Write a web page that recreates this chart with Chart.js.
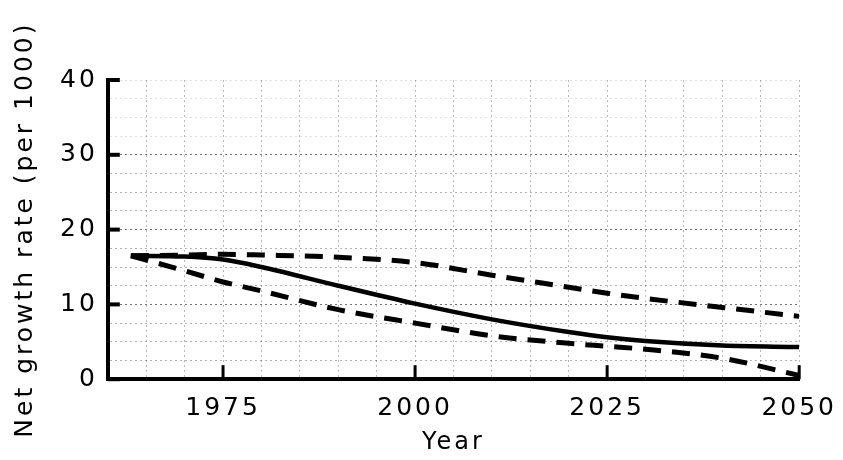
<!DOCTYPE html>
<html>
<head>
<meta charset="utf-8">
<script src="https://cdn.jsdelivr.net/npm/chart.js@4.4.1/dist/chart.umd.min.js"></script>
<style>
  html, body { margin: 0; padding: 0; background: #fff; }
  #wrap { width: 843px; height: 460px; }
</style>
</head>
<body>
<div id="wrap"><canvas id="c"></canvas></div>
<script>
// net growth rate projections
const YEARS      = [1963, 1970, 1975, 1980, 1990, 2000, 2010, 2020, 2025, 2030, 2040, 2050];
const MEDIUM     = [16.5, 16.4, 16.0, 15.0, 12.5, 10.1, 8.0, 6.3, 5.6, 5.1, 4.5, 4.3];
const HIGH       = [16.5, 16.6, 16.7, 16.6, 16.3, 15.6, 13.9, 12.3, 11.5, 10.8, 9.6, 8.4];
const LOW        = [16.5, 14.5, 13.0, 11.8, 9.3, 7.5, 5.8, 4.8, 4.4, 4.0, 2.8, 0.5];
const X_LABELS   = [1975, 2000, 2025, 2050];
const Y_LABELS   = [0, 10, 20, 30, 40];

const INK = '#000';
const FONT = 'DejaVu Sans';

const pts = vals => YEARS.map((y, i) => ({ x: y, y: vals[i] }));

// canvas letter spacing for the wide stencil-ish lettering
const spacing = {
  id: 'spacing',
  beforeUpdate(c) { c.ctx.letterSpacing = '3px'; },
  beforeDraw(c) { c.ctx.letterSpacing = '3px'; },
};

// inward tick marks, like the original drafting
const inTicks = {
  id: 'inTicks',
  afterDatasetsDraw(c) {
    const { ctx, chartArea: a, scales: { x, y } } = c;
    ctx.save();
    ctx.strokeStyle = INK;
    ctx.lineCap = 'butt';
    ctx.lineWidth = 4;
    Y_LABELS.forEach(v => {
      const py = y.getPixelForValue(v);
      ctx.beginPath(); ctx.moveTo(a.left, py); ctx.lineTo(a.left + 12, py); ctx.stroke();
    });
    ctx.lineWidth = 3;
    X_LABELS.forEach(v => {
      const px = x.getPixelForValue(v);
      ctx.beginPath(); ctx.moveTo(px, a.bottom); ctx.lineTo(px, a.bottom - 14); ctx.stroke();
    });
    ctx.restore();
  }
};

new Chart(document.getElementById('c'), {
  type: 'line',
  data: {
    datasets: [
      { label: 'medium', data: pts(MEDIUM), borderColor: INK, borderWidth: 4.5, borderDash: [] },
      { label: 'high', data: pts(HIGH), borderColor: INK, borderWidth: 5, borderDash: [18, 11] },
      { label: 'low', data: pts(LOW), borderColor: INK, borderWidth: 5, borderDash: [18, 11] },
    ].map(d => Object.assign(d, { pointRadius: 0, fill: false, cubicInterpolationMode: 'monotone' }))
  },
  options: {
    responsive: true, maintainAspectRatio: false, animation: false,
    layout: { padding: { left: 6, right: 0, top: 80, bottom: 3 } },
    plugins: { legend: { display: false }, tooltip: { enabled: false } },
    scales: {
      x: {
        type: 'linear', min: 1960, max: 2050,
        afterBuildTicks: s => { s.ticks = []; for (let v = 1960; v <= 2050; v += 5) s.ticks.push({ value: v }); },
        // let the last label hang a little closer to the edge
        afterFit: s => { s.paddingRight = Math.max(0, s.paddingRight - 8); },
        ticks: {
          autoSkip: false, maxRotation: 0, padding: 14, color: INK,
          font: { family: FONT, size: 25 },
          callback: v => X_LABELS.includes(v) ? String(v) : '',
        },
        grid: { drawTicks: false, color: 'rgba(0,0,0,0.28)', lineWidth: 1 },
        border: { display: true, color: INK, width: 4, dash: [2, 3] },
        title: { display: true, text: 'Year', color: INK, font: { family: FONT, size: 24 }, padding: { top: -9, bottom: 0 } },
      },
      y: {
        min: 0, max: 40,
        afterBuildTicks: s => { s.ticks = []; for (let v = 0; v <= 40; v += 2.5) s.ticks.push({ value: v }); },
        ticks: {
          autoSkip: false, padding: 10, color: INK,
          font: { family: FONT, size: 25 },
          callback: v => Y_LABELS.includes(v) ? String(v) : '',
        },
        grid: {
          drawTicks: false, lineWidth: 1,
          color: ctx => {
            const v = ctx.tick.value;
            if (v > 30) return 'rgba(0,0,0,0.12)';
            return v % 10 === 0 ? 'rgba(0,0,0,0.55)' : 'rgba(0,0,0,0.3)';
          },
        },
        border: { display: true, color: INK, width: 4, dash: [2, 3] },
        title: { display: true, text: 'Net growth rate (per 1000)', color: INK, font: { family: FONT, size: 25 }, padding: { bottom: 10 } },
      }
    }
  },
  plugins: [spacing, inTicks]
});
</script>
</body>
</html>
